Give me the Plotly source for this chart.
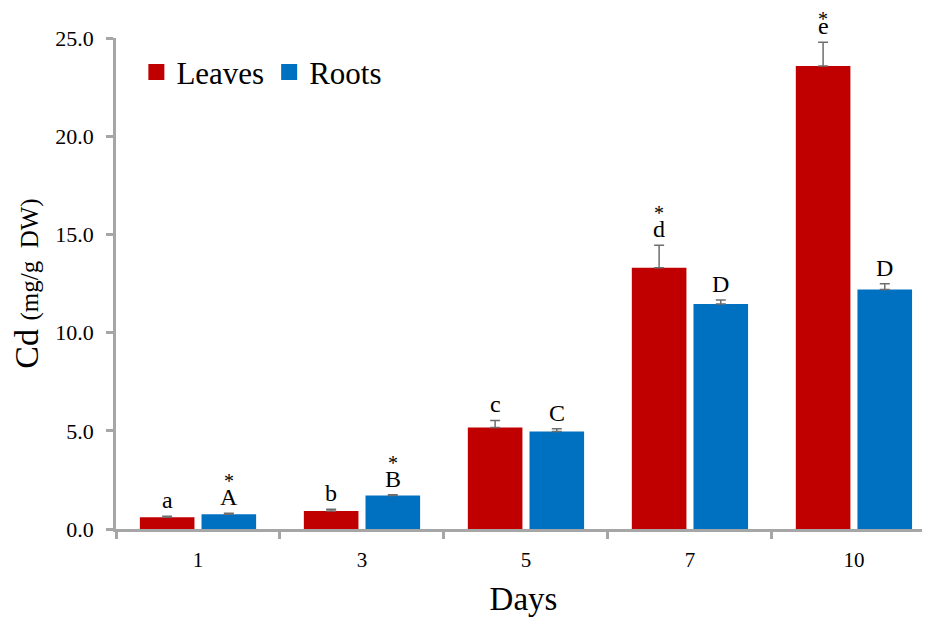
import plotly.graph_objects as go

days = ["1", "3", "5", "7", "10"]
leaves = [0.60, 0.92, 5.17, 13.30, 23.58]
leaves_err = [0.05, 0.08, 0.36, 1.15, 1.20]
roots = [0.75, 1.70, 4.96, 11.46, 12.19]
roots_err = [0.05, 0.05, 0.14, 0.20, 0.30]
leaves_letters = ["a", "b", "c", "d", "e"]
roots_letters = ["A", "B", "C", "D", "D"]
leaves_star = [False, False, False, True, True]
roots_star = [True, True, False, False, False]

RED = "#C00000"
BLUE = "#0070C0"
AXIS = "#A6A6A6"
FONT = "Liberation Serif"

W = 0.333   # bar width (category units)
G = 0.043   # gap between paired bars
idx = list(range(len(days)))

fig = go.Figure()
fig.add_trace(go.Bar(
    x=idx, y=leaves, width=W, offset=-W - G / 2, name="Leaves",
    marker=dict(color=RED, line=dict(width=0)), showlegend=False,
    error_y=dict(type="data", array=leaves_err, arrayminus=[0] * 5, symmetric=False,
                 color="#6E6E6E", thickness=1.5, width=5)))
fig.add_trace(go.Bar(
    x=idx, y=roots, width=W, offset=G / 2, name="Roots",
    marker=dict(color=BLUE, line=dict(width=0)), showlegend=False,
    error_y=dict(type="data", array=roots_err, arrayminus=[0] * 5, symmetric=False,
                 color="#6E6E6E", thickness=1.5, width=5)))
# legend entries
for nm, col in [("Leaves", RED), ("Roots", BLUE)]:
    fig.add_trace(go.Scatter(x=[None], y=[None], mode="markers", name=nm,
                             marker=dict(symbol="square", size=22, color=col)))

annotations = []
tall = set("ABCDEbdfhklt")
for series, errs, letters, stars, sign in [
        (leaves, leaves_err, leaves_letters, leaves_star, -1),
        (roots, roots_err, roots_letters, roots_star, 1)]:
    for i, (v, e, L, s) in enumerate(zip(series, errs, letters, stars)):
        xc = i + sign * (W / 2 + G / 2)
        top = v + e
        annotations.append(dict(x=xc, y=top, xref="x", yref="y", text=L, showarrow=False,
                                yanchor="bottom", yshift=1,
                                font=dict(family=FONT, size=24, color="black")))
        if s:
            annotations.append(dict(x=xc, y=top, xref="x", yref="y", text="*", showarrow=False,
                                    yanchor="bottom", yshift=(19 if L in tall else 10),
                                    font=dict(family=FONT, size=20, color="black")))

fig.update_layout(
    width=930, height=617,
    margin=dict(l=108, r=7, t=30, b=96),
    plot_bgcolor="white", paper_bgcolor="white",
    font=dict(family=FONT, color="black"),
    showlegend=True,
    legend=dict(orientation="h", x=0.025, y=0.985, xanchor="left", yanchor="top",
                font=dict(family=FONT, size=31, color="black"),
                itemsizing="trace", tracegroupgap=0, itemwidth=30,
                bgcolor="rgba(0,0,0,0)"),
    annotations=annotations,
    xaxis=dict(range=[-0.5, 4.47], tickmode="array", tickvals=idx, ticktext=days,
               ticks="", showline=True, linecolor=AXIS, linewidth=2.5, showgrid=False,
               zeroline=False, tickfont=dict(family=FONT, size=21, color="black"),
               ticklabelstandoff=10,
               minor=dict(tickmode="linear", tick0=-0.5, dtick=1, ticks="outside",
                          ticklen=7, tickwidth=2.5, tickcolor=AXIS, showgrid=False),
               title=dict(text="Days", font=dict(family=FONT, size=33, color="black"),
                          standoff=16)),
    yaxis=dict(range=[0, 25], tickmode="linear", tick0=0, dtick=5, tickformat=".1f",
               ticks="outside", ticklen=7, tickwidth=2.5, tickcolor=AXIS,
               showline=True, linecolor=AXIS, linewidth=2.5, showgrid=False, zeroline=False,
               tickfont=dict(family=FONT, size=22, color="black"),
               ticklabelstandoff=8,
               title=dict(text="Cd <span style='font-size:25px'>(mg/g  DW)</span>",
                          font=dict(family=FONT, size=34, color="black"), standoff=17)),
)

fig.write_html("out.html")
